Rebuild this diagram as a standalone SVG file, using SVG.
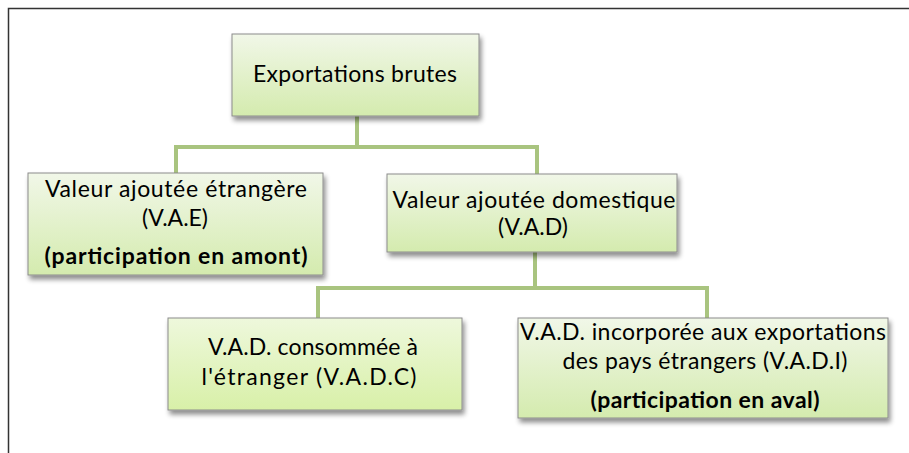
<svg xmlns="http://www.w3.org/2000/svg" width="909" height="453" viewBox="0 0 909 453">
<defs>
<linearGradient id="g" x1="0" y1="0" x2="0" y2="1">
<stop offset="0" stop-color="#f1f7e8"/>
<stop offset="1" stop-color="#d4ebae"/>
</linearGradient>
<linearGradient id="g2" x1="0" y1="0" x2="0" y2="1">
<stop offset="0" stop-color="#eef8dc"/>
<stop offset="1" stop-color="#d8f0a8"/>
</linearGradient>
<filter id="sh" x="-10%" y="-10%" width="130%" height="140%">
<feGaussianBlur in="SourceAlpha" stdDeviation="2.5"/>
<feOffset dx="2" dy="4" result="b"/>
<feComponentTransfer><feFuncA type="linear" slope="0.45"/></feComponentTransfer>
<feMerge><feMergeNode/><feMergeNode in="SourceGraphic"/></feMerge>
</filter>
</defs>
<style>
.box{fill:url(#g);stroke:#8c8c8c;stroke-width:1;filter:url(#sh)}
.box2{fill:url(#g2);stroke:#8c8c8c;stroke-width:1;filter:url(#sh)}
.t{font-family:Lato,"Open Sans",sans-serif;font-size:23px;fill:#000;text-anchor:middle}
.b{font-weight:bold}
.c{fill:none;stroke:#a9c47f;stroke-width:4}
</style>
<rect x="0" y="0" width="909" height="453" fill="#fff"/>
<rect x="8.5" y="8.5" width="920" height="460" fill="none" stroke="#333" stroke-width="1.5"/>
<g id="connectors">
<path class="c" d="M357 116V147M176 173V147H537V174"/>
<path class="c" d="M535 252V288M318 318V288H707V318"/>
</g>
<g id="n-exportations">
<rect class="box" x="232" y="34" width="247" height="82"/>
<text class="t" x="355" y="82" textLength="204">Exportations brutes</text>
</g>
<g id="n-vae">
<rect class="box" x="28" y="173" width="295" height="102"/>
<text class="t" x="176" y="197" textLength="262">Valeur ajoutée étrangère</text>
<text class="t" x="175" y="226">(V.A.E)</text>
<text class="t b" x="176" y="264" textLength="263">(participation en amont)</text>
</g>
<g id="n-vad">
<rect class="box" x="387" y="174" width="290" height="78"/>
<text class="t" x="534" y="208" textLength="283">Valeur ajoutée domestique</text>
<text class="t" x="533" y="235">(V.A.D)</text>
</g>
<g id="n-vadc">
<rect class="box2" x="168" y="318" width="294" height="92"/>
<text class="t" x="313" y="355" textLength="210">V.A.D. consommée à</text>
<text class="t" x="309" y="385" textLength="215">l'étranger (V.A.D.C)</text>
</g>
<g id="n-vadi">
<rect class="box" x="518" y="318" width="370" height="100"/>
<text class="t" x="703" y="340" textLength="366">V.A.D. incorporée aux exportations</text>
<text class="t" x="705" y="369" textLength="285">des pays étrangers (V.A.D.I)</text>
<text class="t b" x="705" y="408" textLength="229">(participation en aval)</text>
</g>
</svg>
